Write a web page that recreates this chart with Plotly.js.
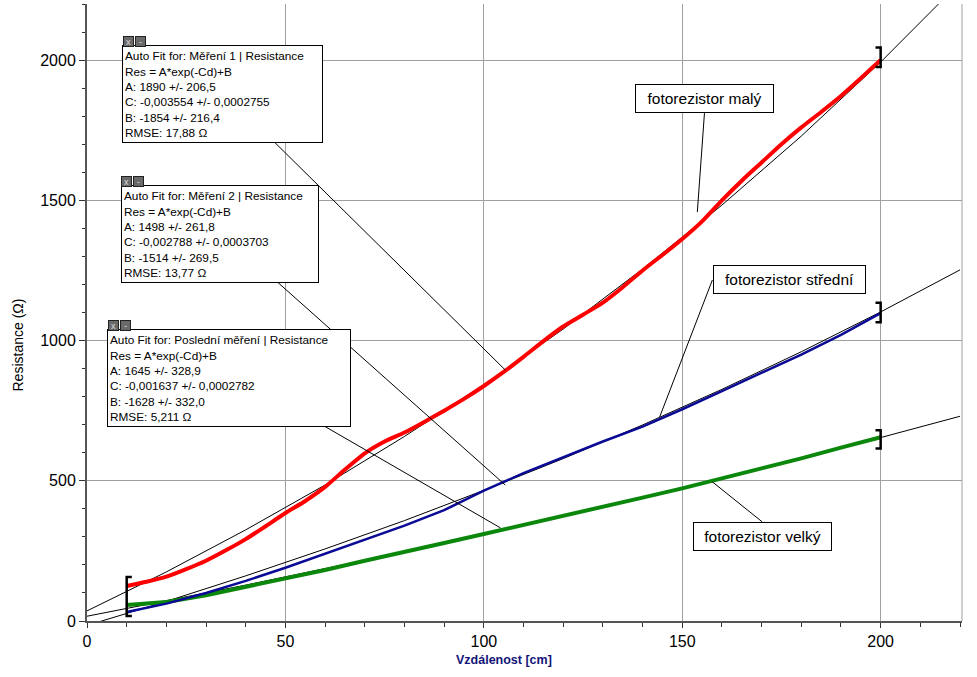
<!DOCTYPE html>
<html>
<head>
<meta charset="utf-8">
<script src="https://cdn.plot.ly/plotly-3.0.1.min.js"></script>
<style>html,body{margin:0;padding:0;background:#fff;}#chart{width:977px;height:677px;}</style>
</head>
<body>
<div id="chart"></div>
<script>
// ---- data ----
const distance = [10,20,30,40,50,60,70,80,90,100,110,120,130,140,150,160,170,180,190,200];
const distanceFine = [10,15,20,25,30,35,40,45,50,55,60,65,70,75,80,85,90,95,100,105,110,115,120,125,130,135,140,145,150,155,160,165,170,175,180,185,190,195,200];
const resMaly    = [125,140,158,185,215,252,292,338,385,428,478,540,598,640,672,710,750,792,838,888,942,998,1050,1092,1135,1190,1250,1305,1362,1425,1500,1570,1635,1700,1760,1815,1872,1935,2000];
const resStredni = [32,62,100,143,190,240,290,340,395,465,527,583,640,693,755,820,885,950,1020,1098];
const resVelky   = [57,68,92,122,150,182,215,245,278,310,342,374,405,440,473,508,545,580,618,655];

// fitted curves as drawn across the whole axis
const fitX      = [0,20,40,60,80,100,120,140,160,180,200,220];
const fitMaly    = [36,175,325,485,658,843,1041,1255,1483,1729,1993,2277];
const fitStredni = [-16,70,161,257,358,466,579,699,826,960,1102,1252];
const fitVelky   = [17,72,128,187,247,310,374,441,510,581,654,730];

// examine-range brackets
const bracketX    = [10,200,200,200];
const bracketLow  = [18,1975,1065,615];
const bracketHigh = [157,2045,1135,680];
const bracketSide = [1,-1,-1,-1];

// text
const fitTexts = [
  "Auto Fit for: Měření 1 | Resistance<br>Res = A*exp(-Cd)+B<br>A: 1890 +/- 206,5<br>C: -0,003554 +/- 0,0002755<br>B: -1854 +/- 216,4<br>RMSE: 17,88 Ω",
  "Auto Fit for: Měření 2 | Resistance<br>Res = A*exp(-Cd)+B<br>A: 1498 +/- 261,8<br>C: -0,002788 +/- 0,0003703<br>B: -1514 +/- 269,5<br>RMSE: 13,77 Ω",
  "Auto Fit for: Poslední měření | Resistance<br>Res = A*exp(-Cd)+B<br>A: 1645 +/- 328,9<br>C: -0,001637 +/- 0,0002782<br>B: -1628 +/- 332,0<br>RMSE: 5,211 Ω"
];
const seriesLabels = ["fotorezistor malý","fotorezistor střední","fotorezistor velký"];
const xTitle = "Vzdálenost [cm]";
const yTitle = "Resistance (Ω)";

// ---- traces ----
const FONT = "Liberation Sans, Arial, sans-serif";
const traces = [];
[fitMaly, fitStredni, fitVelky].forEach(f => {
  traces.push({x: fitX, y: f, mode: 'lines', line: {color: '#000', width: 1}, hoverinfo: 'skip'});
});
traces.push({x: distance, y: resVelky, mode: 'lines', line: {color: '#0b870b', width: 4}});
traces.push({x: distance, y: resStredni, mode: 'lines', line: {color: '#0a0a96', width: 2.5}});
traces.push({x: distanceFine, y: resMaly, mode: 'lines', line: {color: '#ff0000', width: 4, shape: 'spline', smoothing: 0.6}});

const serif = 1.3;
bracketX.forEach((bx, i) => {
  const s = bracketSide[i] * serif;
  traces.push({x: [bx + s, bx, bx, bx + s], y: [bracketHigh[i], bracketHigh[i], bracketLow[i], bracketLow[i]],
    mode: 'lines', line: {color: '#000', width: 2.5}, hoverinfo: 'skip'});
});

// ---- annotations ----
const BOX_H = 92;
const infoPos = [{x: 34.15, y: 1879, w: 195}, {x: 33.5, y: 1380, w: 192}, {x: 35.8, y: 866, w: 238}];
const annotations = [];
infoPos.forEach((p, i) => {
  annotations.push({x: p.x, y: p.y, xref: 'x', yref: 'y', showarrow: false, text: fitTexts[i],
    align: 'left', valign: 'bottom', width: p.w, height: BOX_H, bgcolor: '#fff', bordercolor: '#000',
    borderwidth: 1, borderpad: 2, font: {family: FONT, size: 11.8, color: '#000'}});
  const half = (p.w + 6) / 2;
  annotations.push({x: p.x, y: p.y, xref: 'x', yref: 'y', showarrow: false, text: 'x',
    xshift: -half + 6, yshift: 52.5, width: 9, height: 9, bgcolor: '#6a6a6a', bordercolor: '#222',
    borderwidth: 1, borderpad: 0, font: {family: FONT, size: 9, color: '#ddd'}});
  annotations.push({x: p.x, y: p.y, xref: 'x', yref: 'y', showarrow: false, text: '-',
    xshift: -half + 18, yshift: 52.5, width: 9, height: 9, bgcolor: '#6a6a6a', bordercolor: '#222',
    borderwidth: 1, borderpad: 0, font: {family: FONT, size: 9, color: '#ddd'}});
});
const labelPos = [{x: 155.6, y: 1863, w: 133}, {x: 177.0, y: 1218, w: 147}, {x: 170.2, y: 303, w: 133}];
labelPos.forEach((p, i) => {
  annotations.push({x: p.x, y: p.y, xref: 'x', yref: 'y', showarrow: false, text: seriesLabels[i],
    width: p.w, height: 23, bgcolor: '#fff', bordercolor: '#000', borderwidth: 1, borderpad: 2,
    font: {family: FONT, size: 15.5, color: '#000'}});
});
annotations.push({x: 0.4766, y: 0, xref: 'paper', yref: 'paper', yanchor: 'middle', xanchor: 'center',
  yshift: -39, showarrow: false,
  text: '<b>' + xTitle + '</b>', font: {family: FONT, size: 12.5, color: '#141478'}});
annotations.push({x: 0, y: 0.5, xref: 'paper', yref: 'paper', xanchor: 'center', yanchor: 'middle',
  xshift: -70, yshift: -33, showarrow: false,
  text: yTitle, textangle: -90, font: {family: FONT, size: 14, color: '#000'}});

// connector lines
const connectors = [
  [46.7,1715,105.4,895],[47.4,1216,105.4,485],[59.3,699,104.2,332],
  [155.6,1811,153.8,1458],[157.6,1216,144.3,727],[170.2,353,157.6,496]
];
const shapes = connectors.map(c => ({type: 'line', xref: 'x', yref: 'y', x0: c[0], y0: c[1], x1: c[2], y1: c[3],
  line: {color: '#000', width: 1}, layer: 'above'}));
shapes.push({type: 'line', xref: 'paper', yref: 'paper', x0: 1, x1: 1, y0: 0, y1: 1, line: {color: '#a0a0a0', width: 1}});

const layout = {
  width: 977, height: 677,
  margin: {l: 87, r: 15, t: 4, b: 56},
  paper_bgcolor: '#fff', plot_bgcolor: '#fff',
  showlegend: false,
  font: {family: FONT, color: '#000'},
  xaxis: {range: [0, 220.5], dtick: 50, tick0: 0, showgrid: true, gridcolor: '#a0a0a0', gridwidth: 1,
    zeroline: false, showline: true, linecolor: '#555', linewidth: 2, ticks: 'outside', ticklen: 5,
    tickcolor: '#333', tickfont: {family: FONT, size: 16, color: '#000'},
    minor: {dtick: 10, ticks: 'outside', ticklen: 4, tickcolor: '#333', showgrid: false}},
  yaxis: {range: [0, 2200], dtick: 500, tick0: 0, showgrid: true, gridcolor: '#a0a0a0', gridwidth: 1,
    zeroline: false, showline: true, linecolor: '#555', linewidth: 2, ticks: 'outside', ticklen: 6,
    tickcolor: '#333', tickfont: {family: FONT, size: 16, color: '#000'},
    minor: {dtick: 100, ticks: 'outside', ticklen: 3, tickcolor: '#333', showgrid: false}},
  annotations: annotations,
  shapes: shapes
};
Plotly.newPlot('chart', traces, layout, {displayModeBar: false, staticPlot: true});
</script>
</body>
</html>
